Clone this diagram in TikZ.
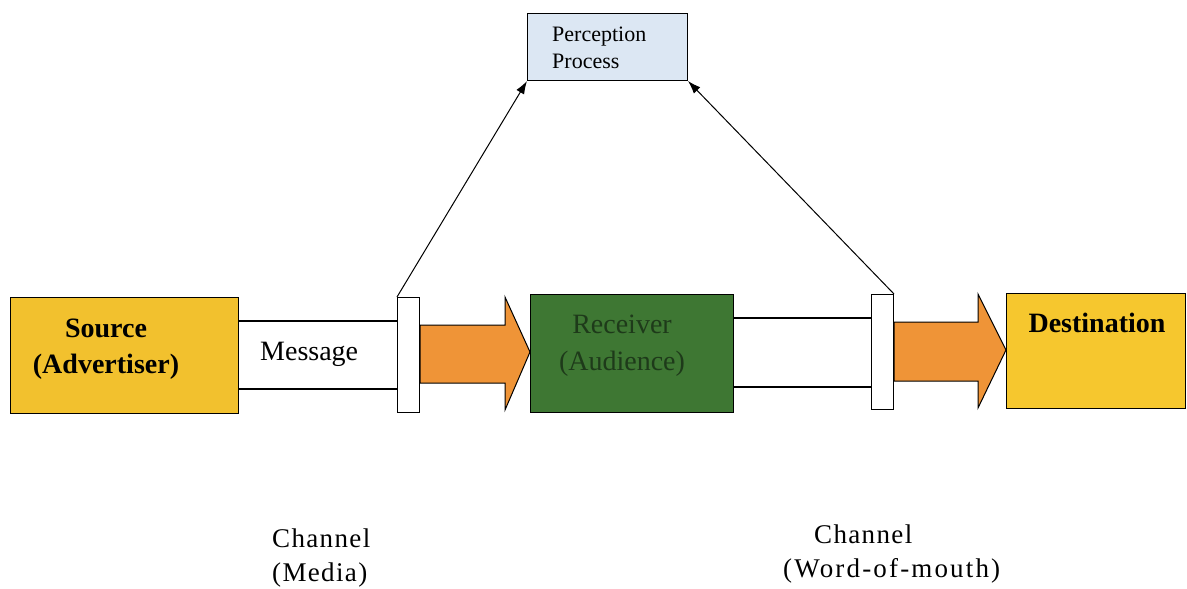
\documentclass[tikz,border=0pt]{standalone}
\usepackage{fontspec}
\setmainfont{Liberation Serif}
\usetikzlibrary{arrows.meta}
\definecolor{srcY}{HTML}{F2C12E}
\definecolor{orng}{HTML}{EF9437}
\definecolor{grn}{HTML}{3E7733}
\definecolor{dstY}{HTML}{F6C72E}
\definecolor{percB}{HTML}{DCE7F3}
\definecolor{rtxt}{HTML}{1E3A1A}
\begin{document}
\begin{tikzpicture}[x=1pt,y=-1pt,
  box/.style={draw=black, line width=1.2pt, inner sep=0pt, anchor=north west},
  bartxt/.style={inner sep=0pt, anchor=base},
  bigbold/.style={font=\fontsize{28}{34}\selectfont\bfseries},
  bigreg/.style={font=\fontsize{28}{34}\selectfont},
  chan/.style={inner sep=0pt, anchor=base west, font=\fontsize{27}{33}\selectfont\addfontfeature{LetterSpace=5}},
  perctxt/.style={inner sep=0pt, anchor=base west, font=\fontsize{22}{26}\selectfont},
  fatarrow/.style={fill=orng, draw=black, line width=1pt, line join=miter},
  conn/.style={line width=1.1pt},
  perarrow/.style={line width=1pt, -{Latex[length=13pt,width=9pt]}}]
\useasboundingbox (0,0) rectangle (1187,589);
\fill[white] (0,0) rectangle (1187,589);

% boxes
\node[box, fill=srcY, minimum width=228pt, minimum height=116pt] (src) at (10,297) {};
\node[box, fill=grn, minimum width=203pt, minimum height=118pt] (rec) at (530,294) {};
\node[box, fill=dstY, minimum width=179pt, minimum height=115pt] (dst) at (1006,293) {};
\node[box, fill=percB, line width=1pt, minimum width=160pt, minimum height=67pt] (perc) at (527,13) {};
\node[box, fill=white, line width=1pt, minimum width=22pt, minimum height=115pt] (bar1) at (397,297) {};
\node[box, fill=white, line width=1pt, minimum width=22pt, minimum height=115pt] (bar2) at (871,294) {};

% message band and word-of-mouth band
\coordinate (m1) at (238,321);
\coordinate (m2) at (238,389);
\draw[conn] (m1) -- (m1 -| bar1.west);
\draw[conn] (m2) -- (m2 -| bar1.west);
\coordinate (w1) at (733,318);
\coordinate (w2) at (733,387);
\draw[conn] (w1) -- (w1 -| bar2.west);
\draw[conn] (w2) -- (w2 -| bar2.west);

% fat arrows
\draw[fatarrow] (bar1.east |- {(0,325)}) -- (505,325) -- (505,297) -- (rec.west |- {(0,352)}) -- (505,410) -- (505,383) -- (bar1.east |- {(0,383)}) -- cycle;
\draw[fatarrow] (bar2.east |- {(0,322)}) -- (978,322) -- (978,294) -- (dst.west |- {(0,350)}) -- (978,408) -- (978,381) -- (bar2.east |- {(0,381)}) -- cycle;

% arrows to perception
\draw[perarrow] (bar1.north west) -- (perc.south west);
\draw[perarrow] (bar2.north east) -- (perc.south east);

% texts
\node[bartxt, bigbold] (srcA) at (106,337) {Source};
\node[bartxt, bigbold] (srcB) at (106,373) {(Advertiser)};
\node[inner sep=0pt, anchor=base west, bigreg] (msg) at (260,360) {Message};
\node[bartxt, bigreg, text=rtxt] (recA) at (622,333) {Receiver};
\node[bartxt, bigreg, text=rtxt] (recB) at (622,370) {(Audience)};
\node[bartxt, bigbold] (dstA) at (1097,332) {Destination};
\node[perctxt] (percA) at (552,41) {Perception};
\node[perctxt] (percP) at (552,68) {Process};
\node[chan] (ch1a) at (272,547) {Channel};
\node[chan] (ch1b) at (272,581) {(Media)};
\node[chan] (ch2a) at (814,543) {Channel};
\node[chan, font=\fontsize{27}{33}\selectfont\addfontfeature{LetterSpace=8}] (ch2b) at (783,577) {(Word-of-mouth)};
\end{tikzpicture}
\end{document}
